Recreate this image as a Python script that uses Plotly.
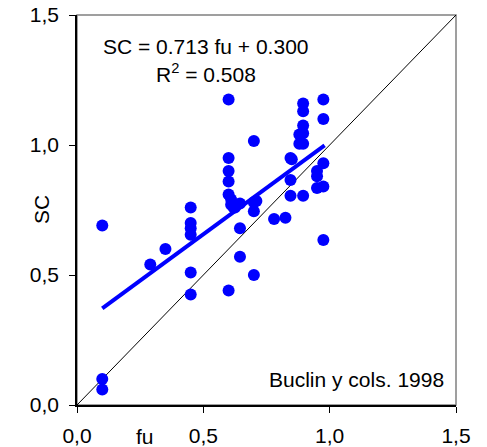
import plotly.graph_objects as go

fu = [0.10, 0.10, 0.10, 0.29, 0.35,
      0.45, 0.45, 0.45, 0.45, 0.45, 0.45,
      0.60, 0.60, 0.60, 0.60, 0.60, 0.60, 0.61, 0.61, 0.62, 0.625,
      0.645, 0.645, 0.645,
      0.70, 0.70, 0.70, 0.70, 0.71,
      0.78, 0.825,
      0.845, 0.85, 0.845, 0.845,
      0.88, 0.88, 0.895, 0.895, 0.895, 0.895, 0.895, 0.895,
      0.95, 0.95, 0.95,
      0.975, 0.975, 0.975, 0.975, 0.975]
sc = [0.10, 0.06, 0.69, 0.54, 0.60,
      0.76, 0.70, 0.68, 0.655, 0.51, 0.425,
      1.175, 0.95, 0.90, 0.86, 0.81, 0.44, 0.79, 0.77, 0.76, 0.76,
      0.775, 0.68, 0.57,
      1.015, 0.78, 0.745, 0.50, 0.785,
      0.715, 0.72,
      0.95, 0.945, 0.865, 0.805,
      1.04, 1.005, 1.16, 1.13, 1.075, 1.045, 1.005, 0.805,
      0.90, 0.88, 0.835,
      1.175, 1.10, 0.93, 0.84, 0.635]

slope = 0.713
intercept = 0.300
fit_x = [0.10, 0.98]
fit_y = [slope * v + intercept for v in fit_x]
ident = [0.0, 1.5]

tickvals = [0.0, 0.5, 1.0, 1.5]
ticktext = ["0,0", "0,5", "1,0", "1,5"]

FONT = "Liberation Sans, Arial, sans-serif"
FS = 21

fig = go.Figure()
fig.add_trace(go.Scatter(x=ident, y=ident, mode="lines",
                         line=dict(color="black", width=1), hoverinfo="skip"))
fig.add_trace(go.Scatter(x=fit_x, y=fit_y, mode="lines",
                         line=dict(color="#0000FF", width=4)))
fig.add_trace(go.Scatter(x=fu, y=sc, mode="markers",
                         marker=dict(color="#0000FF", size=12, line=dict(width=0))))

fig.update_layout(
    width=487, height=447,
    margin=dict(l=77, r=31, t=15, b=42, autoexpand=False),
    paper_bgcolor="white", plot_bgcolor="white",
    showlegend=False,
    font=dict(family=FONT, size=FS, color="black"),
    shapes=[dict(type="rect", xref="paper", yref="paper", x0=0, y0=0, x1=1, y1=1,
                 line=dict(color="#808080", width=1.5), layer="below")],
    annotations=[
        dict(text="SC = 0.713 fu + 0.300", x=0.51, y=1.5, xref="x", yref="y",
             xanchor="center", yanchor="middle", yshift=-31, showarrow=False,
             font=dict(size=FS)),
        dict(text="R<sup>2</sup> = 0.508", x=0.51, y=1.5, xref="x", yref="y",
             xanchor="center", yanchor="middle", yshift=-58, showarrow=False,
             font=dict(size=FS)),
        dict(text="Buclin y cols. 1998", x=1.46, y=0.1, xref="x", yref="y",
             xanchor="right", yanchor="middle", showarrow=False,
             font=dict(size=FS)),
        dict(text="fu", x=0.27, y=0, xref="x", yref="paper",
             xanchor="center", yanchor="middle", yshift=-31, showarrow=False,
             borderpad=0, font=dict(size=FS)),
        dict(text="SC", x=0, y=0.75, xref="paper", yref="y",
             xanchor="center", yanchor="middle", xshift=-36, textangle=-90,
             showarrow=False, font=dict(size=FS)),
    ],
)
fig.update_xaxes(range=[0, 1.5], tickvals=tickvals, ticktext=ticktext,
                 showgrid=False, zeroline=False, showline=True, linecolor="black",
                 linewidth=1.5, ticks="outside", ticklen=6, tickcolor="black",
                 ticklabelstandoff=5, automargin=False)
fig.update_yaxes(range=[0, 1.5], tickvals=tickvals, ticktext=ticktext,
                 showgrid=False, zeroline=False, showline=True, linecolor="black",
                 linewidth=1.5, ticks="outside", ticklen=6, tickcolor="black",
                 ticklabelstandoff=6, automargin=False)

fig.write_html("out.html", config={"displayModeBar": False},
               post_script="document.body.style.margin='0';document.body.style.padding='0';")
